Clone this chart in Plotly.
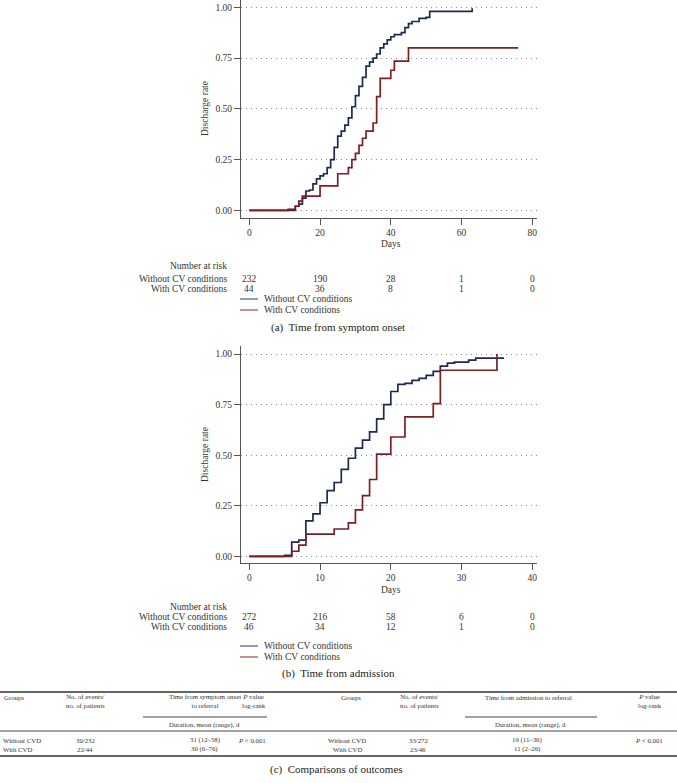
import plotly.graph_objects as go

W, H = 677, 783
FONT = "Liberation Serif"

# ---------------- data ----------------
# (a) Time from symptom onset
a_days_without = [0, 11, 13, 14, 15, 16, 17, 18, 19, 20, 21, 22, 23, 24, 25, 26, 27, 28, 29, 30,
                  31, 32, 33, 34, 35, 36, 37, 38, 39, 40, 41, 43, 44, 45, 46, 48, 50, 51, 63]
a_rate_without = [0, 0.005, 0.02, 0.03, 0.06, 0.095, 0.10, 0.13, 0.155, 0.17, 0.18, 0.21, 0.25, 0.31,
                  0.365, 0.39, 0.42, 0.455, 0.51, 0.565, 0.61, 0.655, 0.71, 0.73, 0.75, 0.77, 0.80,
                  0.82, 0.84, 0.855, 0.865, 0.875, 0.90, 0.92, 0.93, 0.945, 0.95, 0.98, 0.995]
a_days_with = [0, 13, 14, 15, 20, 25, 28, 29, 30, 31, 32, 33, 35, 36, 37, 40, 41, 45, 76]
a_rate_with = [0, 0.02, 0.045, 0.07, 0.12, 0.18, 0.21, 0.25, 0.28, 0.32, 0.355, 0.39, 0.43, 0.56,
               0.65, 0.69, 0.735, 0.80, 0.80]
a_ticks = [0, 20, 40, 60, 80]
a_risk_without = ["232", "190", "28", "1", "0"]
a_risk_with = ["44", "36", "8", "1", "0"]

# (b) Time from admission
b_days_without = [0, 5, 6, 7, 8, 9, 10, 11, 12, 13, 14, 15, 16, 17, 18, 19, 20, 21, 22, 23, 24, 25,
                  26, 27, 28, 29, 31, 32, 36]
b_rate_without = [0, 0.005, 0.07, 0.08, 0.175, 0.21, 0.265, 0.325, 0.365, 0.43, 0.485, 0.535, 0.575,
                  0.615, 0.68, 0.75, 0.815, 0.85, 0.855, 0.87, 0.88, 0.895, 0.915, 0.94, 0.955, 0.96,
                  0.97, 0.98, 0.98]
b_days_with = [0, 6, 7, 8, 12, 14, 15, 16, 17, 18, 20, 22, 26, 27, 35]
b_rate_with = [0, 0.025, 0.055, 0.11, 0.135, 0.165, 0.23, 0.30, 0.38, 0.505, 0.59, 0.69, 0.755,
               0.92, 1.0]
b_ticks = [0, 10, 20, 30, 40]
b_risk_without = ["272", "216", "58", "6", "0"]
b_risk_with = ["46", "34", "12", "1", "0"]

y_ticks = [0, 0.25, 0.5, 0.75, 1.0]
y_ticktext = ["0.00", "0.25", "0.50", "0.75", "1.00"]
series_names = ["Without CV conditions", "With CV conditions"]

# (c) table
tbl_left_header = ["Groups", "No. of events/<br>no. of patients", "Time from symptom onset<br>to referral",
                   "<i>P</i> value<br>log-rank"]
tbl_left_rows = [["Without CVD", "30/232", "31 (12–58)", "<i>P</i> < 0.001"],
                 ["With CVD", "22/44", "30 (6–76)", ""]]
tbl_right_header = ["Groups", "No. of events/<br>no. of patients", "Time from admission to referral",
                    "<i>P</i> value<br>log-rank"]
tbl_right_rows = [["Without CVD", "33/272", "19 (11–36)", "<i>P</i> < 0.001"],
                  ["With CVD", "23/46", "11 (2–26)", ""]]
duration_label = "Duration, mean (range), d"

BLUE = "#1d2b50"
RED = "#7d1f22"
AX = "#555555"
TXT = "#333333"


def px(x):
    return x / W


def py(y):
    return 1 - y / H


fig = go.Figure()
line_w = 1.7
fig.add_trace(go.Scatter(x=a_days_without, y=a_rate_without, mode="lines", line_shape="hv",
                         line=dict(color=BLUE, width=line_w), xaxis="x", yaxis="y", showlegend=False))
fig.add_trace(go.Scatter(x=a_days_with, y=a_rate_with, mode="lines", line_shape="hv",
                         line=dict(color=RED, width=line_w), xaxis="x", yaxis="y", showlegend=False))
fig.add_trace(go.Scatter(x=b_days_without, y=b_rate_without, mode="lines", line_shape="hv",
                         line=dict(color=BLUE, width=line_w), xaxis="x2", yaxis="y2", showlegend=False))
fig.add_trace(go.Scatter(x=b_days_with, y=b_rate_with, mode="lines", line_shape="hv",
                         line=dict(color=RED, width=line_w), xaxis="x2", yaxis="y2", showlegend=False))

tickfont = dict(family=FONT, size=9.5, color=TXT)
xcommon = dict(showline=True, linecolor=AX, linewidth=1, ticks="outside", ticklen=6, tickcolor=AX,
               showgrid=False, zeroline=False, tickfont=tickfont, fixedrange=True, automargin=False)
ycommon = dict(showline=True, linecolor=AX, linewidth=1, ticks="outside", ticklen=6, tickcolor=AX,
               showgrid=True, gridcolor="#8a8a8a", gridwidth=1, griddash="1px,4px", zeroline=False,
               tickvals=y_ticks, ticktext=y_ticktext, tickfont=tickfont, fixedrange=True, automargin=False)

fig.update_layout(
    width=W, height=H, margin=dict(l=0, r=0, t=0, b=0),
    paper_bgcolor="white", plot_bgcolor="white",
    font=dict(family=FONT, color=TXT),
    xaxis=dict(domain=[px(241), px(537)], range=[-2.35, 81.33], tickvals=a_ticks, anchor="y", **xcommon),
    yaxis=dict(domain=[py(218), 1], range=[-0.038, 1.036], anchor="x", **ycommon),
    xaxis2=dict(domain=[px(241), px(537)], range=[-1.17, 40.66], tickvals=b_ticks, anchor="y2", **xcommon),
    yaxis2=dict(domain=[py(563), py(346)], range=[-0.033, 1.04], anchor="x2", **ycommon),
)

ann = []
shapes = []


def text(x, y, s, size=9.5, xanchor="center", xref="paper", textangle=0, color=TXT):
    ann.append(dict(x=x, y=py(y), xref=xref, yref="paper", text=s, showarrow=False,
                    xanchor=xanchor, yanchor="middle", textangle=textangle,
                    font=dict(family=FONT, size=size, color=color)))


def hline(x0, x1, y, width=1, color="#333333"):
    shapes.append(dict(type="line", xref="paper", yref="paper", x0=px(x0), x1=px(x1), y0=py(y), y1=py(y),
                       line=dict(color=color, width=width)))


# panel decorations
panels = [
    dict(xref="x", ticks=a_ticks, rw=a_risk_without, rwi=a_risk_with, title_y=108, days_x=a_ticks[2],
         days_y=244, nar_y=266, r1=279, r2=289, l1=299, l2=310, cap_y=327, cap="(a)  Time from symptom onset"),
    dict(xref="x2", ticks=b_ticks, rw=b_risk_without, rwi=b_risk_with, title_y=454, days_x=b_ticks[2],
         days_y=590, nar_y=607, r1=617, r2=627, l1=646, l2=657, cap_y=673, cap="(b)  Time from admission"),
]
for p in panels:
    text(px(205), p["title_y"], "Discharge rate", textangle=-90)
    text(p["days_x"], p["days_y"], "Days", xref=p["xref"])
    text(px(229), p["nar_y"], "Number at risk", xanchor="right")
    text(px(229), p["r1"], series_names[0], xanchor="right")
    text(px(229), p["r2"], series_names[1], xanchor="right")
    for t, a, b in zip(p["ticks"], p["rw"], p["rwi"]):
        text(t, p["r1"], a, xref=p["xref"])
        text(t, p["r2"], b, xref=p["xref"])
    hline(240, 258, p["l1"], width=1.2, color="#4a5a80")
    hline(240, 258, p["l2"], width=1.2, color="#a04a4a")
    text(px(262), p["l1"], series_names[0], xanchor="left")
    text(px(262), p["l2"], series_names[1], xanchor="left")
    text(px(338), p["cap_y"], p["cap"], size=11, color="#222222")

# table (c)
TS = 6.8
hline(0, 677, 692, width=1.3)
hline(0, 677, 731, width=0.9)
hline(0, 677, 756, width=1.3)
hline(143, 267, 717, width=1.1, color="#444444")
hline(465, 597, 717, width=1.1, color="#444444")

# left table
text(px(2), 697, tbl_left_header[0], size=TS, xanchor="left")
text(px(85), 701, tbl_left_header[1], size=TS)
text(px(205), 701, tbl_left_header[2], size=TS)
text(px(254), 701, tbl_left_header[3], size=TS)
text(px(205), 725, duration_label, size=TS)
for row, yy in zip(tbl_left_rows, [740, 749]):
    text(px(1), yy, row[0], size=TS, xanchor="left")
    text(px(85), yy, row[1], size=TS)
    text(px(205), yy, row[2], size=TS)
    if row[3]:
        text(px(252), yy, row[3], size=TS)

# right table
text(px(351), 697, tbl_right_header[0], size=TS)
text(px(419), 701, tbl_right_header[1], size=TS)
text(px(528), 697, tbl_right_header[2], size=TS)
text(px(650), 701, tbl_right_header[3], size=TS)
text(px(530), 725, duration_label, size=TS)
for row, yy in zip(tbl_right_rows, [740, 749]):
    text(px(347), yy, row[0], size=TS)
    text(px(418), yy, row[1], size=TS)
    text(px(527), yy, row[2], size=TS)
    if row[3]:
        text(px(649), yy, row[3], size=TS)

text(px(336), 769, "(c)  Comparisons of outcomes", size=11, color="#222222")

fig.update_layout(annotations=ann, shapes=shapes)
fig.write_html("out.html", config={"displayModeBar": False},
               post_script="document.body.style.margin='0';document.body.style.overflow='hidden';")
